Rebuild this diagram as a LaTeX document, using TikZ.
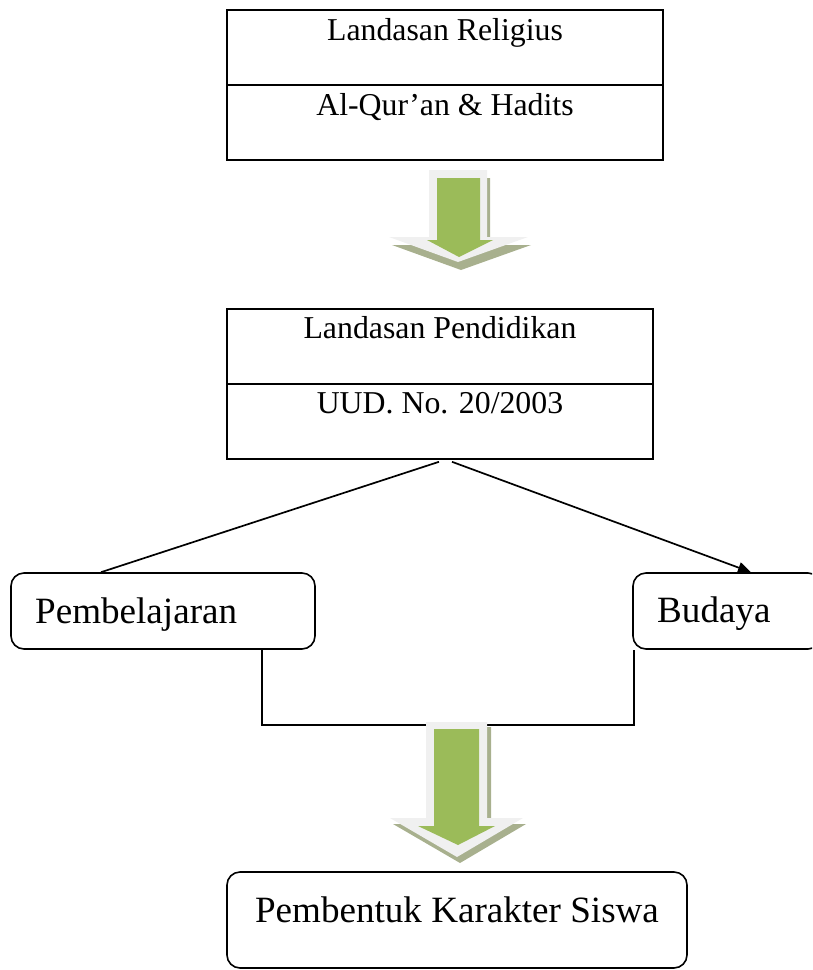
\documentclass[tikz,border=0pt]{standalone}
\usepackage{fontspec}
\setmainfont{Liberation Serif}
\usetikzlibrary{arrows.meta}
\definecolor{arrgreen}{RGB}{155,187,89}
\definecolor{arrlight}{RGB}{240,240,240}
\definecolor{arrshadow}{RGB}{168,176,142}
\tikzset{
  sqbox/.style={draw=black, line width=1.6pt, rectangle, inner sep=0pt},
  rdbox/.style={draw=black, line width=1.6pt, rectangle, rounded corners=13pt, inner sep=0pt},
  smalltxt/.style={anchor=base, inner sep=0pt, font=\fontsize{31.8}{38}\selectfont},
  bigtxt/.style={inner sep=0pt, font=\fontsize{37.1}{44}\selectfont},
  conn/.style={draw=black, line width=1.7pt},
}
\begin{document}
\begin{tikzpicture}[x=1pt, y=-1pt]
\useasboundingbox (0,0) rectangle (812,970);
\clip (0,0) rectangle (812,970);
% Top box
\node[sqbox, minimum width=436pt, minimum height=150pt] (rel) at (445,85) {};
\draw[conn] (rel.west) -- (rel.east);
\node[smalltxt] (reltitle) at (445,40) {Landasan Religius};
\node[smalltxt] (relsrc) at (445,115) {Al-Qur’an \& Hadits};
% Block arrow 1
\fill[arrshadow] (432,178) -- (490,178) -- (490,245) -- (531,245) -- (461,270) -- (392,245) -- (432,245) -- cycle;
\fill[arrlight] (429,170) -- (487,170) -- (487,237) -- (528,237) -- (458,262) -- (389,237) -- (429,237) -- cycle;
\fill[arrgreen] (437,178) -- (480,178) -- (480,240) -- (493,240) -- (459,257) -- (427,240) -- (437,240) -- cycle;
% Second box
\node[sqbox, minimum width=426pt, minimum height=150pt] (pend) at (440,384) {};
\draw[conn] (pend.west) -- (pend.east);
\node[smalltxt] (pendtitle) at (440,338) {Landasan Pendidikan};
\node[smalltxt] (pendsrc) at (440,413) {UUD. No. 20/2003};
% Side boxes
\node[rdbox, minimum width=304pt, minimum height=76pt] (pemb) at (163,611) {};
\node[bigtxt, anchor=base west] (pembtxt) at (35,623) {Pembelajaran};
\node[rdbox, minimum width=188pt, minimum height=76pt] (bud) at (727,611) {};
\node[bigtxt, anchor=base west] (budtxt) at (657,622) {Budaya};
% Connectors
\draw[conn] ([xshift=-1pt,yshift=-2pt]pend.south) -- ([xshift=-62pt]pemb.north);
\draw[conn, -{Triangle[length=13pt,width=11pt]}] ([xshift=12pt,yshift=-2pt]pend.south) -- ([xshift=24pt]bud.north);
\draw[conn] ([xshift=99pt]pemb.south) |- (448,725) -| ([xshift=-93pt]bud.south);
% Block arrow 2
\fill[arrshadow] (429,727) -- (491,727) -- (491,824) -- (526,824) -- (460,863) -- (393,824) -- (429,824) -- cycle;
\fill[arrlight] (426,722) -- (487,722) -- (487,818) -- (523,818) -- (457,857) -- (390,818) -- (426,818) -- cycle;
\fill[arrgreen] (434,729) -- (479,729) -- (479,826) -- (495,826) -- (458,845) -- (418,826) -- (434,826) -- cycle;
% Bottom box
\node[rdbox, minimum width=460pt, minimum height=96pt] (kar) at (457,920) {};
\node[bigtxt, anchor=base] (kartxt) at (457,922) {Pembentuk Karakter Siswa};
\end{tikzpicture}
\end{document}
